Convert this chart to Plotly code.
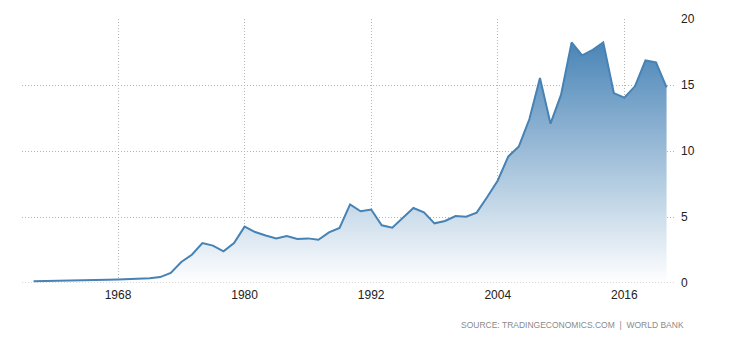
import plotly.graph_objects as go

years = list(range(1960, 2021))
values = [
    0.13, 0.14, 0.15, 0.15, 0.17, 0.20, 0.22, 0.24, 0.26, 0.28,
    0.31, 0.36, 0.45, 0.76, 1.59, 2.14, 3.03, 2.83, 2.40, 3.03,
    4.27, 3.86, 3.60, 3.38, 3.56, 3.33, 3.38, 3.28, 3.83, 4.17,
    5.95, 5.43, 5.57, 4.37, 4.19, 4.95, 5.68, 5.35, 4.52, 4.70,
    5.07, 5.02, 5.33, 6.52, 7.77, 9.59, 10.35, 12.42, 15.53, 12.07,
    14.27, 18.23, 17.24, 17.67, 18.23, 14.39, 14.04, 14.90, 16.86, 16.71,
    14.82,
]
x_ticks = [1968, 1980, 1992, 2004, 2016]
y_ticks = [0, 5, 10, 15, 20]
source_text = "SOURCE: TRADINGECONOMICS.COM  |  WORLD BANK"

line_color = "#4682b4"
grid_color = "#b4b4b4"
grid_dash = "1px,2px"
tick_font = dict(family="Arial, Liberation Sans, sans-serif", size=12, color="#222222")

fig = go.Figure(
    go.Scatter(
        x=years,
        y=values,
        mode="lines",
        line=dict(color=line_color, width=2),
        fill="tozeroy",
        fillgradient=dict(
            type="vertical",
            start=0,
            stop=max(values),
            colorscale=[[0, "rgba(255,255,255,1)"], [1, "#4a85b7"]],
        ),
        hoverinfo="x+y",
    )
)

fig.update_layout(
    width=730,
    height=340,
    margin=dict(l=22, r=55, t=19, b=57),
    paper_bgcolor="white",
    plot_bgcolor="white",
    showlegend=False,
    xaxis=dict(
        range=[1958.9, 2020.8],
        tickvals=x_ticks,
        ticktext=[str(t) for t in x_ticks],
        showgrid=True,
        gridcolor=grid_color,
        griddash=grid_dash,
        gridwidth=1,
        zeroline=False,
        showline=False,
        ticks="",
        ticklabelstandoff=3,
        tickfont=tick_font,
    ),
    yaxis=dict(
        range=[0, 20],
        side="right",
        tickvals=y_ticks,
        showgrid=True,
        gridcolor=grid_color,
        griddash=grid_dash,
        gridwidth=1,
        zeroline=False,
        showline=False,
        ticks="",
        ticklabelstandoff=5,
        tickfont=tick_font,
    ),
    # dotted baseline kept visible on top of the filled area
    shapes=[
        dict(
            type="line",
            xref="paper",
            yref="y",
            x0=0,
            x1=1,
            y0=0,
            y1=0,
            layer="above",
            line=dict(color=grid_color, width=1, dash=grid_dash),
        )
    ],
    annotations=[
        dict(
            text=source_text,
            xref="paper",
            yref="paper",
            x=1.017,
            y=-0.158,
            xanchor="right",
            yanchor="middle",
            showarrow=False,
            font=dict(family="Arial, Liberation Sans, sans-serif", size=8.5, color="#8a8a8a"),
        )
    ],
)

fig.write_html("out.html")
